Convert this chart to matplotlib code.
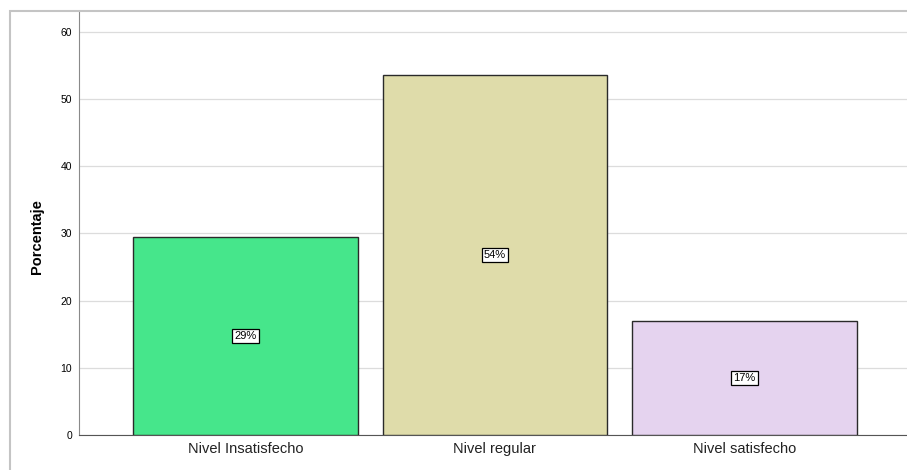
import matplotlib.pyplot as plt
from matplotlib.patches import Rectangle

plt.rcParams['font.family'] = ['Liberation Sans', 'DejaVu Sans']

# Data
categories = ['Nivel Insatisfecho', 'Nivel regular', 'Nivel satisfecho']
values = [29.4, 53.6, 17.0]
labels = ['29%', '54%', '17%']
colors = ['#46e68b', '#dfdcaa', '#e5d3ef']

fig = plt.figure(figsize=(9.07, 4.70), dpi=100)

# outer frame (cut off on the right and bottom like the original)
fig.patches.append(Rectangle((10 / 907, -0.1), 1.2, (470 - 11) / 470 + 0.1,
                             transform=fig.transFigure, fill=False,
                             edgecolor='#c4c4c4', linewidth=1.5))

ax = fig.add_axes([79 / 907, 35 / 470, 828 / 907, 424 / 470])
x = range(len(categories))
ax.bar(x, values, width=0.9, color=colors, edgecolor='#2a2a2a', linewidth=1, zorder=3)

for i, v in enumerate(values):
    ax.text(i, v / 2, labels[i], ha='center', va='center', fontsize=8, zorder=4,
            bbox=dict(boxstyle='square,pad=0.2', facecolor='white', edgecolor='black', linewidth=0.9))

ax.set_xlim(-0.667, 2.652)
ax.set_ylim(0, 63.1)
ax.set_yticks(range(0, 61, 10))
ax.set_xticks(list(x))
ax.set_xticklabels(categories, fontsize=10.5, color='#222222')
ax.tick_params(axis='y', length=0, labelsize=7.5, pad=5)
ax.tick_params(axis='x', length=0, pad=5)
ax.set_ylabel('Porcentaje', fontsize=10.5, fontweight='bold')
ax.yaxis.set_label_coords(-0.042, 0.467)
ax.grid(axis='y', color='#dcdcdc', linewidth=0.9, zorder=0)

for s in ['top', 'right']:
    ax.spines[s].set_visible(False)
ax.spines['left'].set_color('#8a8a8a')
ax.spines['bottom'].set_color('#555555')

fig.savefig('out.png', dpi=100)
